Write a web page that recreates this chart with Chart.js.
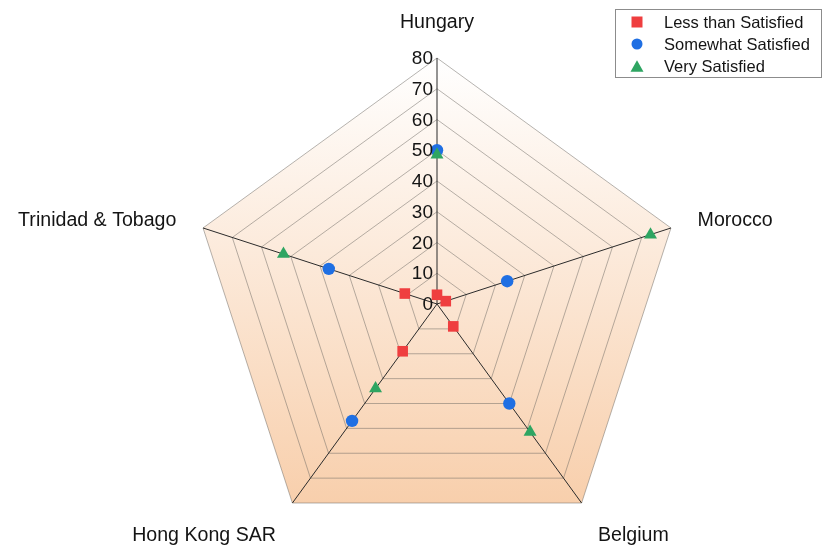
<!DOCTYPE html>
<html>
<head>
<meta charset="utf-8">
<title>Satisfaction by country</title>
<script src="https://cdn.jsdelivr.net/npm/chart.js@4.4.1/dist/chart.umd.min.js"></script>
<style>
  html, body { margin: 0; padding: 0; background: #fff; }
  #chart { display: block; }
</style>
</head>
<body>
<canvas id="chart" width="822" height="550"></canvas>
<script>
// categories around the radar, clockwise from the top
const countries = ["Hungary", "Morocco", "Belgium", "Hong Kong SAR", "Trinidad & Tobago"];

// series values (percent)
const lessThanSatisfied = [3, 3, 9, 19, 11];
const somewhatSatisfied = [50, 24, 40, 47, 37];
const verySatisfied = [48.5, 73, 51.5, 34, 52.5];

// radial axis range
const axisMin = 0;
const axisMax = 80;
const axisStep = 10;

const FONT = "'Liberation Sans', Arial, sans-serif";
const TEXT = "#141414";

// peach gradient inside the outer polygon
const polygonFill = {
  id: "polygonFill",
  beforeDraw(chart) {
    const r = chart.scales.r;
    const ctx = chart.ctx;
    const n = r.getLabels().length;
    const top = r.yCenter - r.drawingArea;
    const bottom = r.yCenter + r.drawingArea * Math.cos(Math.PI / n);
    const grad = ctx.createLinearGradient(0, top, 0, bottom);
    grad.addColorStop(0, "#ffffff");
    grad.addColorStop(1, "#f8cfac");
    ctx.save();
    ctx.beginPath();
    for (let i = 0; i < n; i++) {
      const p = r.getPointPosition(i, r.drawingArea);
      if (i === 0) ctx.moveTo(p.x, p.y);
      else ctx.lineTo(p.x, p.y);
    }
    ctx.closePath();
    ctx.fillStyle = grad;
    ctx.fill();
    ctx.restore();
  }
};

// tick values left of the top spoke, category names outside the vertices
const axisText = {
  id: "axisText",
  afterDatasetsDraw(chart) {
    const r = chart.scales.r;
    const ctx = chart.ctx;
    ctx.save();
    ctx.fillStyle = TEXT;
    ctx.font = "19px " + FONT;

    ctx.textAlign = "right";
    ctx.textBaseline = "middle";
    r.ticks.forEach((t) => {
      const y = r.yCenter - r.getDistanceFromCenterForValue(t.value);
      ctx.fillText(String(t.value), r.xCenter - 4, y + 1);
    });

    ctx.font = "19.6px " + FONT;
    const labels = r.getLabels();
    labels.forEach((label, i) => {
      const p = r.getPointPosition(i, r.drawingArea + 28);
      const deg = (r.getIndexAngle(i) * 180) / Math.PI;
      if (deg < 1 || Math.abs(deg - 180) < 1) ctx.textAlign = "center";
      else ctx.textAlign = deg < 180 ? "left" : "right";
      let y = p.y;
      if (deg < 45 || deg > 315) {
        ctx.textBaseline = "alphabetic";
        y -= 2;
      } else if (deg > 120 && deg < 240) {
        ctx.textBaseline = "top";
      } else {
        ctx.textBaseline = "middle";
        y += 1;
      }
      ctx.fillText(label, p.x, y);
    });
    ctx.restore();
  }
};

// boxed legend in the top right corner
function drawMarker(ctx, style, x, y, size, color) {
  ctx.fillStyle = color;
  ctx.beginPath();
  if (style === "rect") {
    ctx.rect(x - size / 2, y - size / 2, size, size);
  } else if (style === "circle") {
    ctx.arc(x, y, size / 2, 0, Math.PI * 2);
  } else {
    const h = size * 0.87;
    ctx.moveTo(x, y - h / 2);
    ctx.lineTo(x + size / 2, y + h / 2);
    ctx.lineTo(x - size / 2, y + h / 2);
    ctx.closePath();
  }
  ctx.fill();
}

const boxLegend = {
  id: "boxLegend",
  afterDraw(chart) {
    const ctx = chart.ctx;
    const items = [...chart.data.datasets].sort((a, b) => a.legendIndex - b.legendIndex);
    const left = 615, top = 9, width = 206, rowH = 22;
    ctx.save();
    ctx.strokeStyle = "#8c8c8c";
    ctx.lineWidth = 1;
    ctx.strokeRect(left + 0.5, top + 0.5, width, rowH * items.length + 2);
    ctx.font = "16.5px " + FONT;
    ctx.textAlign = "left";
    ctx.textBaseline = "middle";
    items.forEach((ds, i) => {
      const y = top + 13 + i * rowH;
      drawMarker(ctx, ds.pointStyle, left + 22, y, ds.pointStyle === "triangle" ? 13 : 11, ds.backgroundColor);
      ctx.fillStyle = TEXT;
      ctx.fillText(ds.label, left + 49, y + 1);
    });
    ctx.restore();
  }
};

const ctx = document.getElementById("chart").getContext("2d");
new Chart(ctx, {
  type: "radar",
  data: {
    labels: countries,
    datasets: [
      {
        label: "Less than Satisfied",
        data: lessThanSatisfied,
        pointStyle: "rect",
        pointRadius: 7.5,
        backgroundColor: "#ef3e3f",
        order: 0,
        legendIndex: 0,
      },
      {
        label: "Somewhat Satisfied",
        data: somewhatSatisfied,
        pointStyle: "circle",
        pointRadius: 6.2,
        backgroundColor: "#1f6fe3",
        order: 2,
        legendIndex: 1,
      },
      {
        label: "Very Satisfied",
        data: verySatisfied,
        pointStyle: "triangle",
        pointRadius: 7.5,
        backgroundColor: "#2ea562",
        order: 1,
        legendIndex: 2,
      },
    ].map((ds) => ({
      ...ds,
      showLine: false,
      fill: false,
      borderWidth: 0,
      pointBorderWidth: 0,
      pointBackgroundColor: ds.backgroundColor,
      pointHoverRadius: ds.pointRadius,
    })),
  },
  options: {
    responsive: false,
    animation: false,
    layout: { padding: { left: 191, top: 58, right: 139, bottom: 0 } },
    plugins: {
      legend: { display: false },
      tooltip: { enabled: false },
    },
    scales: {
      r: {
        min: axisMin,
        max: axisMax,
        ticks: { stepSize: axisStep, display: false },
        pointLabels: { display: false },
        grid: { color: "rgba(110,105,100,0.5)", lineWidth: 1 },
        angleLines: { color: "#2b2b2b", lineWidth: 1 },
      },
    },
  },
  plugins: [polygonFill, axisText, boxLegend],
});
</script>
</body>
</html>
